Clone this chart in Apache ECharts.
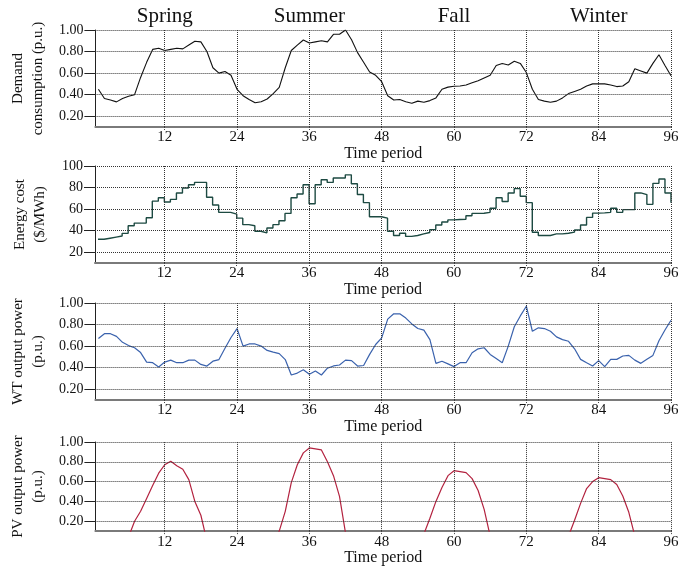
<!DOCTYPE html>
<html><head><meta charset="utf-8">
<script src="https://cdn.jsdelivr.net/npm/echarts@6/dist/echarts.min.js"></script>
<style>html,body{margin:0;padding:0;background:#fff}#c{width:684px;height:567px}</style>
</head><body><div id="c"></div>
<script>
// ---- data ----
const periods = Array.from({length: 96}, (_, i) => i + 1);
const seasons = ['Spring', 'Summer', 'Fall', 'Winter'];
const seasonCenters = [12, 36, 60, 84];
const xTicks = [12, 24, 36, 48, 60, 72, 84, 96];
const puTicks = [0.2, 0.4, 0.6, 0.8, 1.0];
const costTicks = [20, 40, 60, 80, 100];

const demand = [
  0.45, 0.365, 0.35, 0.333, 0.365, 0.385, 0.40, 0.56, 0.70, 0.82,
  0.83, 0.81, 0.82, 0.83, 0.825, 0.86, 0.895, 0.89, 0.80, 0.65,
  0.60, 0.615, 0.58, 0.45, 0.39, 0.355, 0.325, 0.335, 0.36, 0.41,
  0.467, 0.65, 0.81, 0.86, 0.907, 0.88, 0.89, 0.90, 0.89, 0.96,
  0.96, 1.0, 0.91, 0.79, 0.70, 0.61, 0.58, 0.52, 0.39, 0.35,
  0.355, 0.335, 0.32, 0.34, 0.33, 0.345, 0.37, 0.45, 0.47, 0.478,
  0.48, 0.49, 0.51, 0.53, 0.555, 0.58, 0.67, 0.69, 0.675, 0.71,
  0.69, 0.605, 0.45, 0.355, 0.34, 0.33, 0.34, 0.37, 0.41, 0.43,
  0.45, 0.48, 0.50, 0.50, 0.50, 0.49, 0.475, 0.48, 0.52, 0.64,
  0.62, 0.60, 0.69, 0.77, 0.67, 0.575
];

const energyCost = [
  32, 33, 34, 35, 37.5, 44.6, 47, 47, 52, 67.4,
  70.5, 66.6, 69, 75, 79.6, 82.6, 84.8, 84.8, 71, 63.8,
  57, 57, 55.3, 51.6, 45.6, 44.6, 39.5, 38, 42.5, 45.6,
  49.2, 56, 70.5, 74, 82.6, 65, 82.6, 87.2, 84.8, 88.8,
  88.8, 91.8, 83.5, 73.5, 66, 52.9, 52.9, 51.6, 39.5, 35.5,
  37.6, 34.7, 35.5, 37, 38.3, 41, 45.3, 48, 50, 50.4,
  50.6, 53.8, 56, 56.2, 57, 60.8, 70.5, 67, 75, 79,
  72, 66, 38.6, 35.5, 35.5, 37, 37, 37.6, 38.6, 40.6,
  45.3, 52.3, 56.3, 56.5, 57, 60.8, 57, 59.5, 59.5, 75,
  73.5, 64.4, 83.9, 88, 75, 66
];

const wtPower = [
  0.67, 0.715, 0.715, 0.69, 0.635, 0.605, 0.585, 0.54, 0.452, 0.446,
  0.406, 0.452, 0.47, 0.446, 0.446, 0.47, 0.47, 0.43, 0.415, 0.46,
  0.475, 0.58, 0.68, 0.763, 0.60, 0.62, 0.62, 0.60, 0.56, 0.544,
  0.53, 0.475, 0.332, 0.35, 0.38, 0.338, 0.37, 0.332, 0.395, 0.416,
  0.425, 0.47, 0.465, 0.415, 0.42, 0.523, 0.615, 0.677, 0.85, 0.90,
  0.90, 0.86, 0.806, 0.763, 0.748, 0.66, 0.44, 0.46, 0.435, 0.41,
  0.446, 0.446, 0.539, 0.575, 0.585, 0.523, 0.485, 0.446, 0.60, 0.78,
  0.88, 0.97, 0.738, 0.77, 0.763, 0.738, 0.686, 0.66, 0.645, 0.575,
  0.477, 0.445, 0.415, 0.465, 0.41, 0.477, 0.477, 0.508, 0.514, 0.47,
  0.44, 0.477, 0.514, 0.65, 0.75, 0.84
];

const pvPower = [
  0, 0, 0, 0, 0, 0.04, 0.2, 0.3, 0.43, 0.56,
  0.685, 0.77, 0.805, 0.76, 0.725, 0.62, 0.40, 0.26, 0, 0,
  0, 0, 0, 0, 0, 0, 0, 0, 0, 0,
  0.10, 0.30, 0.59, 0.77, 0.89, 0.94, 0.93, 0.92, 0.80, 0.66,
  0.45, 0.08, 0, 0, 0, 0, 0, 0, 0, 0,
  0, 0, 0, 0, 0.07, 0.23, 0.40, 0.54, 0.66, 0.71,
  0.70, 0.69, 0.63, 0.51, 0.32, 0.05, 0, 0, 0, 0,
  0, 0, 0, 0, 0, 0, 0, 0, 0.05, 0.21,
  0.38, 0.53, 0.60, 0.64, 0.63, 0.62, 0.57, 0.455, 0.29, 0.05,
  0, 0, 0, 0, 0, 0
];

// ---- chart ----
const FONT = 'Liberation Serif';
const gridTops = [30, 166, 303, 442];
const gridHeight = 97;

const panels = [
  {data: demand, min: 0.1, max: 1.0, ticks: puTicks, name: 'Demand\nconsumption (p.u.)', color: '#111111', width: 1.1, fmt: v => v.toFixed(2)},
  {data: energyCost, min: 10, max: 100, ticks: costTicks, name: 'Energy cost\n($/MWh)', color: '#1d4a42', width: 1.4, step: 'end', fmt: v => String(Math.round(v))},
  {data: wtPower, min: 0.1, max: 1.0, ticks: puTicks, name: 'WT output power\n(p.u.)', color: '#3a62ad', width: 1.2, fmt: v => v.toFixed(2)},
  {data: pvPower, min: 0.1, max: 1.0, ticks: puTicks, name: 'PV output power\n(p.u.)', color: '#b3223f', width: 1.2, fmt: v => v.toFixed(2)}
];

const grid = [], xAxis = [], yAxis = [], series = [];
panels.forEach((p, i) => {
  grid.push({left: 95, right: 13, top: gridTops[i], height: gridHeight});
  xAxis.push({
    type: 'value', gridIndex: i, min: 0.5, max: 96, position: 'bottom',
    splitLine: {show: false},
    axisLine: {show: true, onZero: false, lineStyle: {color: '#7a7a7a', width: 2}},
    axisTick: {show: true, customValues: xTicks, length: 4, lineStyle: {color: '#444', type: 'dotted'}},
    axisLabel: {customValues: xTicks, fontFamily: FONT, fontSize: 15, color: '#111', margin: 3},
    name: 'Time period', nameLocation: 'middle', nameGap: 13,
    nameTextStyle: {fontFamily: FONT, fontSize: 16, color: '#111', verticalAlign: 'top'}
  });
  yAxis.push({
    type: 'value', gridIndex: i, min: p.min, max: p.max,
    splitLine: {show: false},
    axisLine: {show: true, lineStyle: {color: '#222', width: 1}},
    axisTick: {show: true, customValues: p.ticks, length: 11, lineStyle: {color: '#222'}},
    axisLabel: {customValues: p.ticks, formatter: p.fmt, fontFamily: FONT, fontSize: 14, color: '#111', margin: 12},
    name: p.name, nameLocation: 'middle', nameRotate: 90, nameGap: 45,
    nameTextStyle: {fontFamily: FONT, fontSize: 15, color: '#111', lineHeight: 20, align: 'center'}
  });
  // dotted grid lines
  series.push({
    type: 'line', xAxisIndex: i, yAxisIndex: i, data: [], silent: true, z: 1,
    markLine: {
      silent: true, animation: false, symbol: ['none', 'none'], label: {show: false},
      lineStyle: {type: 'dotted', color: '#333', width: 1},
      emphasis: {disabled: true},
      data: xTicks.map(v => ({xAxis: v})).concat(p.ticks.map(v => ({yAxis: v})))
    }
  });
  series.push({
    type: 'line', xAxisIndex: i, yAxisIndex: i, z: 3,
    data: p.data.map((v, k) => [periods[k], v]),
    step: p.step || false, showSymbol: false, symbol: 'none', clip: true,
    lineStyle: {color: p.color, width: p.width},
    emphasis: {disabled: true}
  });
});

// season labels on a top axis of the first panel
xAxis.push({
  type: 'value', gridIndex: 0, min: 0.5, max: 96, position: 'top',
  axisLine: {show: false}, axisTick: {show: false}, splitLine: {show: false},
  axisLabel: {customValues: seasonCenters, formatter: v => seasons[seasonCenters.indexOf(v)],
    fontFamily: FONT, fontSize: 21, color: '#111', margin: 3}
});

const chart = echarts.init(document.getElementById('c'), null, {renderer: 'canvas'});
chart.setOption({animation: false, backgroundColor: '#fff', grid, xAxis, yAxis, series});
</script></body></html>
